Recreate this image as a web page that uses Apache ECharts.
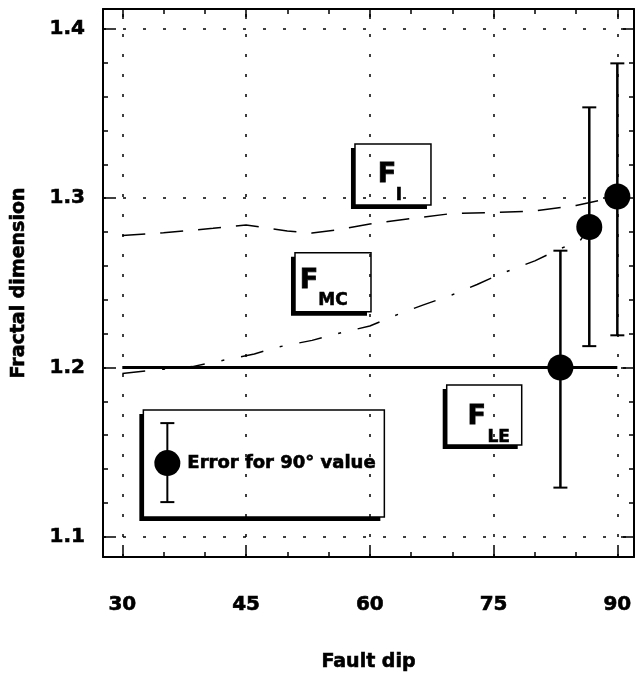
<!DOCTYPE html>
<html><head><meta charset="utf-8">
<script src="https://cdn.jsdelivr.net/npm/echarts@6/dist/echarts.min.js"></script>
<style>html,body{margin:0;padding:0;background:#fff}#c{width:635px;height:679px}</style>
</head><body><div id="c"></div>
<script>
// ---- data ----
const xTicks = [30, 45, 60, 75, 90];
const yTicks = [1.1, 1.2, 1.3, 1.4];
const xMinorTicks = [35, 40, 50, 55, 65, 70, 80, 85];
const yMinorTicks = [1.12, 1.14, 1.16, 1.18, 1.22, 1.24, 1.26, 1.28, 1.32, 1.34, 1.36, 1.38];

const fleDip = [30, 90];
const fleVal = [1.2, 1.2];

const fiDip = [30, 35, 41, 45, 50, 53, 56, 60, 65, 70, 75, 80, 85, 90];
const fiVal = [1.278, 1.2796, 1.2822, 1.2842, 1.2807, 1.2794, 1.2813, 1.2848, 1.288, 1.291, 1.2915, 1.2925, 1.2957, 1.301];

const fmcDip = [30, 35, 38.5, 42, 46, 49, 53, 56, 60, 63, 66.5, 70, 73, 76, 80, 83, 85.5, 86.6];
const fmcVal = [1.1965, 1.199, 1.2005, 1.204, 1.208, 1.2122, 1.216, 1.2199, 1.2245, 1.2306, 1.237, 1.243, 1.249, 1.2556, 1.263, 1.270, 1.275, 1.283];

const ptDip = [83.1, 86.6, 90];
const ptVal = [1.2, 1.283, 1.301];
const errLow = [1.129, 1.2126, 1.219];
const errHigh = [1.269, 1.3537, 1.3797];

// ---- layout / style config ----
const X_MIN = 27.66, X_MAX = 92.02, Y_MIN = 1.0880, Y_MAX = 1.41182;
const FONT = 'DejaVu Sans';
const gridBox = {left: 103, right: 1, top: 9, bottom: 122};
const boxes = [
  {main: 'F', sub: 'I',  at: [58.2, 1.332],  w: 76, h: 61, f: [32, 31], s: [44, 51]},
  {main: 'F', sub: 'MC', at: [50.93, 1.2678], w: 76, h: 59, f: [14, 28], s: [38, 48]},
  {main: 'F', sub: 'LE', at: [69.32, 1.1896], w: 75, h: 60, f: [30, 32], s: [52, 53]}
];
const legendBox = {at: [32.55, 1.1748], w: 241, h: 107, text: 'Error for 90° value'};

const toPairs = (xs, ys) => xs.map((x, i) => [x, ys[i]]);
const labelStyle = {fontFamily: FONT, fontWeight: 'bold', fontSize: 20, color: '#000', textBorderColor: '#000', textBorderWidth: 0.6};

function xAx(grid, pos, vals, len, labels, line) {
  return {
    type: 'value', gridIndex: grid, position: pos, min: X_MIN, max: X_MAX,
    axisLine: {show: line, onZero: false, lineStyle: {color: '#000', width: 2}},
    axisTick: {show: true, inside: true, length: len, customValues: vals, lineStyle: {color: '#000', width: 1.5}},
    axisLabel: labels ? Object.assign({show: true, customValues: vals, margin: 38}, labelStyle) : {show: false},
    splitLine: {show: false},
    name: labels ? 'Fault dip' : '', nameLocation: 'middle', nameGap: 96,
    nameTextStyle: Object.assign({}, labelStyle, {fontSize: 19})
  };
}
function yAx(grid, pos, vals, len, labels, line) {
  return {
    type: 'value', gridIndex: grid, position: pos, min: Y_MIN, max: Y_MAX,
    axisLine: {show: line, onZero: false, lineStyle: {color: '#000', width: 2}},
    axisTick: {show: true, inside: true, length: len, customValues: vals, lineStyle: {color: '#000', width: 1.5}},
    axisLabel: labels ? Object.assign({show: true, customValues: vals, margin: 18, formatter: v => v.toFixed(1)}, labelStyle) : {show: false},
    splitLine: {show: false},
    name: labels ? 'Fractal dimension' : '', nameLocation: 'middle', nameGap: 74,
    nameTextStyle: Object.assign({}, labelStyle, {fontSize: 19})
  };
}

const gridLineStyle = {color: '#000', width: 1.5, type: [3, 17]};
const markData = xTicks.map(v => ({xAxis: v})).concat(yTicks.map(v => ({yAxis: v})));

const chart = echarts.init(document.getElementById('c'), null, {renderer: 'canvas'});
chart.setOption({
  animation: false,
  backgroundColor: '#fff',
  grid: [Object.assign({}, gridBox), Object.assign({}, gridBox)],
  xAxis: [
    xAx(0, 'bottom', xTicks, 12, true, true),
    xAx(0, 'top', xTicks, 10, false, true),
    xAx(1, 'bottom', xMinorTicks, 5, false, false),
    xAx(1, 'top', xMinorTicks, 5, false, false)
  ],
  yAxis: [
    yAx(0, 'left', yTicks, 13, true, true),
    yAx(0, 'right', yTicks, 13, false, true),
    yAx(1, 'left', yMinorTicks, 5, false, false),
    yAx(1, 'right', yMinorTicks, 5, false, false)
  ],
  series: [
    {
      name: 'F_LE', type: 'line', xAxisIndex: 0, yAxisIndex: 0, data: toPairs(fleDip, fleVal),
      symbol: 'none', lineStyle: {color: '#000', width: 3}, z: 3,
      markLine: {silent: true, symbol: 'none', label: {show: false}, lineStyle: gridLineStyle, data: markData, z: 1}
    },
    {
      name: 'F_I', type: 'line', xAxisIndex: 0, yAxisIndex: 0, data: toPairs(fiDip, fiVal),
      symbol: 'none', smooth: false, lineStyle: {color: '#000', width: 1.5, type: [23, 15]}, z: 3
    },
    {
      name: 'F_MC', type: 'line', xAxisIndex: 0, yAxisIndex: 0, data: toPairs(fmcDip, fmcVal),
      symbol: 'none', lineStyle: {color: '#000', width: 1.5, type: [23, 17, 3, 17]}, z: 3
    },
    {
      name: 'err', type: 'custom', xAxisIndex: 0, yAxisIndex: 0,
      data: ptDip.map((x, i) => [x, errLow[i], errHigh[i]]), z: 4,
      renderItem: function (params, api) {
        const x = api.value(0);
        const lo = api.coord([x, api.value(1)]);
        const hi = api.coord([x, api.value(2)]);
        const w = 7;
        return {type: 'group', children: [
          {type: 'line', shape: {x1: lo[0], y1: lo[1], x2: hi[0], y2: hi[1]}, style: {stroke: '#000', lineWidth: 2.5}},
          {type: 'line', shape: {x1: lo[0] - w, y1: lo[1], x2: lo[0] + w, y2: lo[1]}, style: {stroke: '#000', lineWidth: 2}},
          {type: 'line', shape: {x1: hi[0] - w, y1: hi[1], x2: hi[0] + w, y2: hi[1]}, style: {stroke: '#000', lineWidth: 2}}
        ]};
      }
    },
    {
      name: 'pts', type: 'scatter', xAxisIndex: 0, yAxisIndex: 0, data: toPairs(ptDip, ptVal),
      symbol: 'circle', symbolSize: 26, itemStyle: {color: '#000', opacity: 1}, z: 5
    }
  ]
});

function boxGraphic(p, w, h, children) {
  return {
    type: 'group', x: p[0], y: p[1], z: 100,
    children: [
      {type: 'rect', shape: {x: -4, y: 4, width: w, height: h}, style: {fill: '#000'}},
      {type: 'rect', shape: {x: 0, y: 0, width: w, height: h}, style: {fill: '#fff', stroke: '#000', lineWidth: 1.5}}
    ].concat(children)
  };
}
const graphics = boxes.map(b => {
  const p = chart.convertToPixel({gridIndex: 0}, b.at);
  return boxGraphic(p, b.w, b.h, [
    {type: 'text', x: b.f[0], y: b.f[1], style: {text: b.main, font: 'bold 27px "' + FONT + '"', fill: '#000', stroke: '#000', lineWidth: 0.8, align: 'center', verticalAlign: 'middle'}},
    {type: 'text', x: b.s[0], y: b.s[1], style: {text: b.sub, font: 'bold 17px "' + FONT + '"', fill: '#000', stroke: '#000', lineWidth: 0.6, align: 'center', verticalAlign: 'middle'}}
  ]);
});
const lp = chart.convertToPixel({gridIndex: 0}, legendBox.at);
graphics.push(boxGraphic(lp, legendBox.w, legendBox.h, [
  {type: 'line', shape: {x1: 24, y1: 13, x2: 24, y2: 92}, style: {stroke: '#000', lineWidth: 2}},
  {type: 'line', shape: {x1: 17, y1: 13, x2: 31, y2: 13}, style: {stroke: '#000', lineWidth: 2}},
  {type: 'line', shape: {x1: 17, y1: 92, x2: 31, y2: 92}, style: {stroke: '#000', lineWidth: 2}},
  {type: 'circle', shape: {cx: 24, cy: 53, r: 13}, style: {fill: '#000'}},
  {type: 'text', x: 44, y: 53, style: {text: legendBox.text, font: 'bold 18px "' + FONT + '"', fill: '#000', stroke: '#000', lineWidth: 0.6, align: 'left', verticalAlign: 'middle'}}
]));
chart.setOption({graphic: graphics});
</script>
</body></html>
